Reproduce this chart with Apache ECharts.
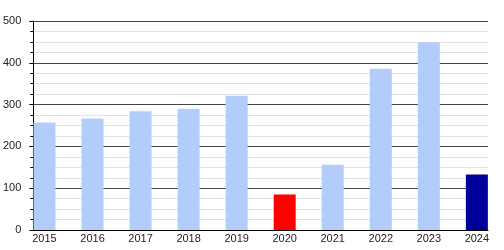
<!DOCTYPE html>
<html><head><meta charset="utf-8">
<script src="https://cdn.jsdelivr.net/npm/echarts@6/dist/echarts.min.js"></script>
<style>html,body{margin:0;padding:0;background:#fff}#c{width:504px;height:250px}</style>
</head><body><div id="c"></div>
<script>
const years = [2015, 2016, 2017, 2018, 2019, 2020, 2021, 2022, 2023, 2024];
const values = [257, 267, 284, 290, 321, 85, 156, 386, 449, 133];
const yTicks = [0, 100, 200, 300, 400, 500];

const colorFor = y => y === 2020 ? '#ff0000' : (y === 2024 ? '#000099' : '#b3cdfb');
const chart = echarts.init(document.getElementById('c'), null, {renderer: 'canvas'});
const half = 0.2317;
chart.setOption({
  animation: false,
  grid: {left: 30, right: 16, top: 21, bottom: 20, containLabel: false},
  xAxis: {
    type: 'value',
    min: years[0] - half,
    max: years[years.length - 1] + half,
    splitLine: {show: false},
    axisTick: {show: false},
    axisLine: {show: true, lineStyle: {color: '#000', width: 1}},
    axisLabel: {
      customValues: years,
      color: '#222', fontSize: 11, fontFamily: 'Liberation Sans, Arial, sans-serif', margin: 3,
      formatter: v => Number.isInteger(v) ? String(v) : ''
    }
  },
  yAxis: {
    type: 'value', min: yTicks[0], max: yTicks[yTicks.length - 1], interval: 100,
    axisLine: {show: true, lineStyle: {color: '#000', width: 1}},
    axisTick: {show: true, length: 4, lineStyle: {color: '#000'}},
    minorTick: {show: true, splitNumber: 4, length: 3, lineStyle: {color: '#000'}},
    splitLine: {show: true, lineStyle: {color: '#444', width: 1}},
    minorSplitLine: {show: true, lineStyle: {color: '#e2e2e2', width: 1}},
    axisLabel: {color: '#222', fontSize: 11, fontFamily: 'Liberation Sans, Arial, sans-serif', margin: 12}
  },
  series: [{
    type: 'bar',
    barWidth: 22,
    data: years.map((y, i) => ({value: [y, values[i]], itemStyle: {color: colorFor(y)}}))
  }]
});
</script></body></html>
